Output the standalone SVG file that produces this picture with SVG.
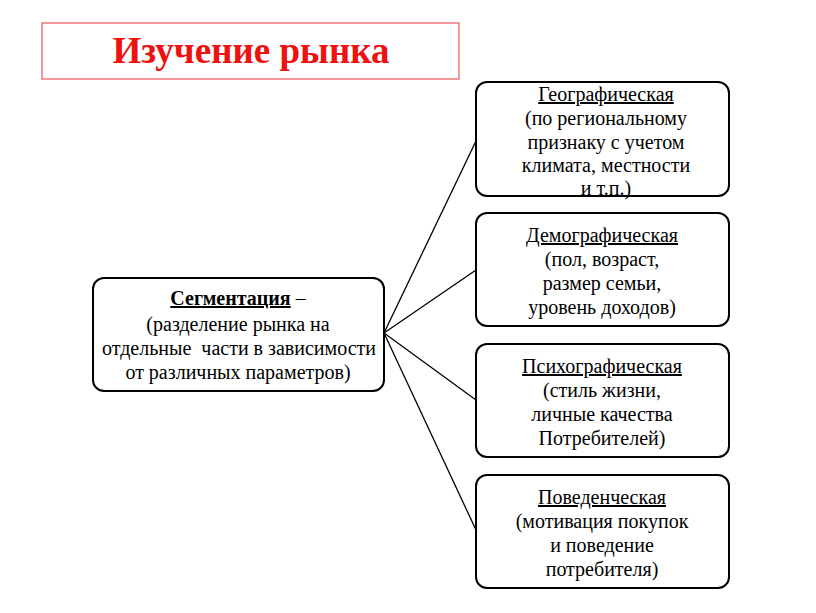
<svg xmlns="http://www.w3.org/2000/svg" width="816" height="613" viewBox="0 0 816 613">
<style>
.box{fill:#fff;stroke:#000;stroke-width:2}
.t{font-family:'Liberation Serif','Times New Roman',serif;font-size:20px;fill:#000;text-anchor:middle}
.u{text-decoration:underline}
.conn line{stroke:#000;stroke-width:1.3}
</style>
<rect width="816" height="613" fill="#fff"/>
<g id="title">
<rect x="42" y="23" width="417" height="56" fill="#fff" stroke="#e8595f" stroke-width="1.2"/>
<text class="t" x="251" y="63" font-size="37" font-weight="bold" style="font-size:37px;fill:#ee1111">Изучение рынка</text>
</g>
<g class="conn" id="connectors">
<line x1="384" y1="333" x2="476" y2="141"/>
<line x1="384" y1="333" x2="476" y2="270"/>
<line x1="384" y1="333" x2="476" y2="400"/>
<line x1="384" y1="333" x2="476" y2="530"/>
</g>
<g id="segmentation">
<rect class="box" x="93" y="278" width="291" height="113" rx="11"/>
<text class="t" y="305"><tspan x="238"><tspan font-weight="bold" class="u">Сегментация</tspan> –</tspan></text>
<text class="t" x="238" y="331">(разделение рынка на</text>
<text class="t" x="239" y="355" xml:space="preserve">отдельные  части в зависимости</text>
<text class="t" x="238" y="379">от различных параметров)</text>
</g>
<g id="geo">
<rect class="box" x="476" y="82" width="253" height="114" rx="11"/>
<text class="t u" x="606" y="101">Географическая</text>
<text class="t" x="606" y="125">(по региональному</text>
<text class="t" x="606" y="149">признаку с учетом</text>
<text class="t" x="606" y="172">климата, местности</text>
<text class="t" x="606" y="195">и т.п.)</text>
</g>
<g id="demo">
<rect class="box" x="476" y="213" width="253" height="113" rx="11"/>
<text class="t u" x="602" y="242">Демографическая</text>
<text class="t" x="602" y="266">(пол, возраст,</text>
<text class="t" x="602" y="290">размер семьи,</text>
<text class="t" x="602" y="314">уровень доходов)</text>
</g>
<g id="psycho">
<rect class="box" x="476" y="344" width="253" height="113" rx="11"/>
<text class="t u" x="602" y="373">Психографическая</text>
<text class="t" x="602" y="397">(стиль жизни,</text>
<text class="t" x="602" y="421">личные качества</text>
<text class="t" x="602" y="445">Потребителей)</text>
</g>
<g id="behav">
<rect class="box" x="476" y="475" width="253" height="113" rx="11"/>
<text class="t u" x="602" y="504">Поведенческая</text>
<text class="t" x="602" y="528">(мотивация покупок</text>
<text class="t" x="602" y="552">и поведение</text>
<text class="t" x="602" y="576">потребителя)</text>
</g>
</svg>
